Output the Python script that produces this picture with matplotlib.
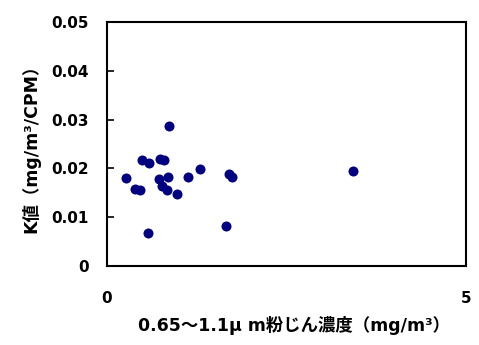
import matplotlib
matplotlib.use("Agg")
import matplotlib.pyplot as plt

# 0.65-1.1um dust concentration (mg/m3) vs K value
conc = [0.86, 0.49, 0.59, 0.74, 0.79, 0.27, 0.39, 0.46, 0.73, 0.85,
        0.76, 0.83, 0.98, 1.13, 1.30, 1.70, 1.74, 3.43, 0.57, 1.66]
kval = [0.0287, 0.0217, 0.0212, 0.0220, 0.0217, 0.0180, 0.0158, 0.0155, 0.0178, 0.0182,
        0.0164, 0.0155, 0.0148, 0.0182, 0.0198, 0.0189, 0.0182, 0.0194, 0.0067, 0.0081]

xticks = [0, 5]
yticks = [0, 0.01, 0.02, 0.03, 0.04, 0.05]
yticklabels = ["0", "0.01", "0.02", "0.03", "0.04", "0.05"]

plt.rcParams['font.family'] = ['DejaVu Sans', 'Noto Sans CJK JP']
plt.rcParams['font.weight'] = 'bold'

fig = plt.figure(figsize=(4.79, 3.45), dpi=100)
ax = fig.add_axes([0.2234, 0.229, 0.7496, 0.707])

ax.scatter(conc, kval, s=52, color='#000080', zorder=3, linewidths=0)

ax.set_xlim(0, 5)
ax.set_ylim(0, 0.05)
ax.set_xticks(xticks)
ax.set_xticklabels([str(t) for t in xticks])
ax.set_yticks(yticks)
ax.set_yticklabels(yticklabels)

ax.tick_params(axis='x', length=0, pad=18, labelsize=11)
ax.tick_params(axis='y', direction='in', length=5, width=1.2, pad=13, labelsize=11)
for lab in ax.get_xticklabels() + ax.get_yticklabels():
    lab.set_fontweight('bold')

for sp in ax.spines.values():
    sp.set_linewidth(1.5)

ax.set_xlabel('0.65～1.1μ m粉じん濃度（mg/m³）', fontsize=12.5, fontweight='bold')
ax.set_ylabel('K値（mg/m³/CPM）', fontsize=12.5, fontweight='bold', labelpad=8)
ax.xaxis.set_label_coords(0.52, -0.205)

fig.savefig('out.png', dpi=100)
